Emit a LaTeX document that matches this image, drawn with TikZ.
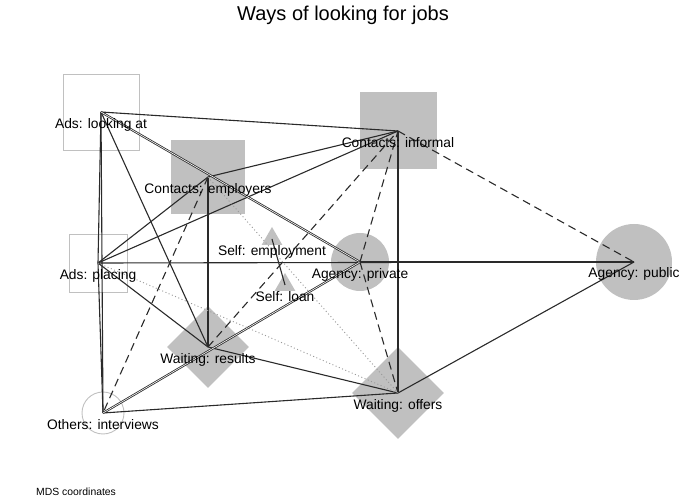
\documentclass[tikz,border=0pt]{standalone}
\usepackage{fontspec}
\setsansfont{Liberation Sans}
\definecolor{mdsgray}{HTML}{C0C0C0}
\definecolor{mdsline}{HTML}{2A2A2A}
\definecolor{mdsdot}{HTML}{999999}
\usetikzlibrary{shapes.geometric,positioning}

\begin{document}
\begin{tikzpicture}[x=1pt, y=-1pt,
  fsq/.style={rectangle, fill=mdsgray, minimum size=#1, inner sep=0pt},
  osq/.style={rectangle, draw=mdsgray, line width=0.9pt, minimum size=#1, inner sep=0pt},
  fcirc/.style={circle, fill=mdsgray, minimum size=#1, inner sep=0pt},
  ocirc/.style={circle, draw=mdsgray, line width=0.9pt, minimum size=#1, inner sep=0pt},
  fdia/.style={diamond, fill=mdsgray, minimum width=#1, minimum height=#1, inner sep=0pt},
  ftri/.style={regular polygon, regular polygon sides=3, fill=mdsgray, minimum size=#1, inner sep=0pt},
  lab/.style={font=\fontsize{13.8}{16}\selectfont\sffamily, inner sep=0pt, text height=10pt, text depth=3pt},
  ln/.style={draw=mdsline, line width=1.1pt},
  dln/.style={ln, dash pattern=on 8pt off 5pt},
  tln/.style={draw=mdsdot, line width=0.9pt, dash pattern=on 1pt off 2.5pt},
  dbl/.style={draw=mdsline, line width=0.8pt, double=white, double distance=0.6pt}
]
  \useasboundingbox (0,0) rectangle (686,502);

  % Markers
  \node[osq=76] (adsl) at (101,112) {};
  \node[fsq=74] (cemp) at (208,177) {};
  \node[fsq=77] (cinf) at (398,131) {};
  \node[fcirc=58] (apriv) at (360,262) {};
  \node[fcirc=76] (apub) at (634,262) {};
  \node[osq=58] (adsp) at (98,263) {};
  \node[fdia=82] (wres) at (208,347) {};
  \node[ocirc=42] (oint) at (103,413) {};
  \node[fdia=92] (woff) at (398,393) {};
  \node[ftri=24] (semp) at (272,239) {};
  \node[ftri=24] (sloan) at (285,285) {};

  % Solid links
  \draw[ln] (adsl.center) -- (cinf.center);
  \draw[ln] (adsl.center) -- (wres.center);
  \draw[ln] (adsl.center) -- (adsp.center);
  \draw[ln] (adsl.center) -- (oint.center);
  \draw[ln] (cemp.center) -- (cinf.center);
  \draw[ln] (cemp.center) -- (wres.center);
  \draw[ln] (adsp.center) -- (cemp.center);
  \draw[ln] (adsp.center) -- (cinf.center);
  \draw[ln] (adsp.center) -- (wres.center);
  \draw[ln] (adsp.center) -- (apub.center);
  \draw[ln] (apriv.center) -- (apub.center);
  \draw[ln] (adsp.center) -- (oint.center);
  \draw[ln] (oint.center) -- (woff.center);
  \draw[ln] (wres.center) -- (woff.center);
  \draw[ln] (cinf.center) -- (woff.center);
  \draw[ln] (woff.center) -- (apub.center);
  \draw[ln] (semp.center) -- (sloan.center);
  \draw[dbl] (adsl.center) -- (apriv.center);
  \draw[dbl] (oint.center) -- (apriv.center);

  % Dashed links
  \draw[dln] (cemp.center) -- (oint.center);
  \draw[dln] (wres.center) -- (cinf.center);
  \draw[dln] (apriv.center) -- (cinf.center);
  \draw[dln] (apriv.center) -- (woff.center);
  \draw[dln] (cinf.center) -- (apub.center);

  % Dotted links
  \draw[tln] (cemp.center) -- (woff.center);
  \draw[tln] (adsp.center) -- (woff.center);

  % Labels
  \node[lab, below=6pt of adsl.center] (adsl-l) {Ads: looking at};
  \node[lab, below=6pt of cemp.center] (cemp-l) {Contacts: employers};
  \node[lab, below=6pt of cinf.center] (cinf-l) {Contacts: informal};
  \node[lab, below=6pt of apriv.center] (apriv-l) {Agency: private};
  \node[lab, below=5.5pt of apub.center] (apub-l) {Agency: public};
  \node[lab, below=6pt of adsp.center] (adsp-l) {Ads: placing};
  \node[lab, below=6pt of wres.center] (wres-l) {Waiting: results};
  \node[lab, below=6pt of oint.center] (oint-l) {Others: interviews};
  \node[lab, below=6pt of woff.center] (woff-l) {Waiting: offers};
  \node[lab, below=6.5pt of semp.center] (semp-l) {Self: employment};
  \node[lab, below=6.5pt of sloan.center] (sloan-l) {Self: loan};

  % Title and note
  \node[font=\fontsize{20}{24}\selectfont\sffamily] (title) at (343,15.5) {Ways of looking for jobs};
  \node[font=\fontsize{10.4}{12}\selectfont\sffamily, anchor=west, inner sep=0pt] (note) at (36,492) {MDS coordinates};
\end{tikzpicture}
\end{document}
